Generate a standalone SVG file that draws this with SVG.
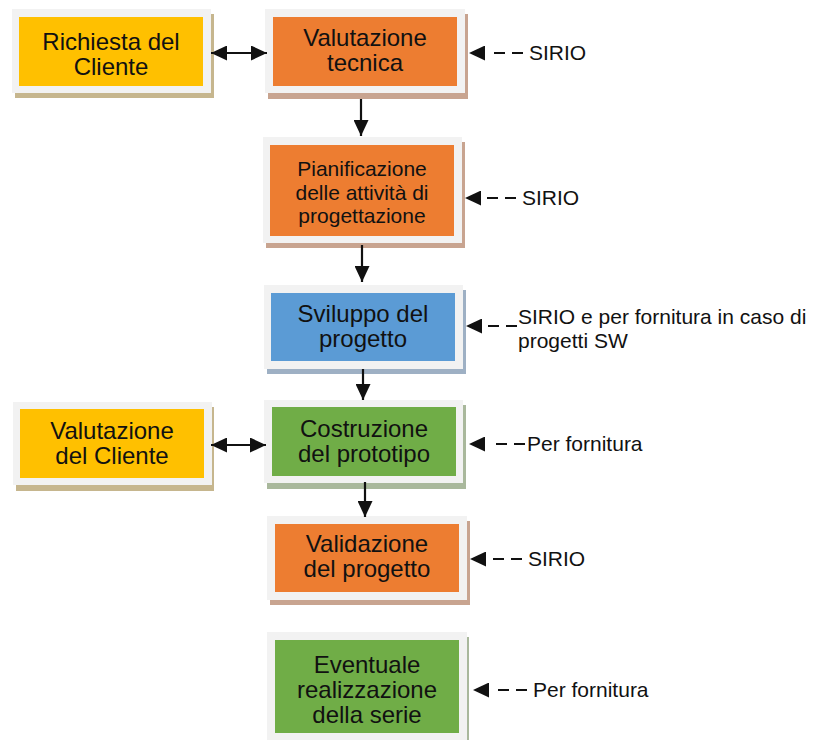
<svg xmlns="http://www.w3.org/2000/svg" width="813" height="740" viewBox="0 0 813 740">
<style>
.frame{fill:#f2f2f2}
.sh-o{fill:#c8a490}
.sh-y{fill:#c6b68e}
.sh-b{fill:#9eb0c4}
.sh-g{fill:#a9b89c}
.yel{fill:#ffc000}
.ora{fill:#ed7d31}
.blu{fill:#5b9bd5}
.grn{fill:#70ad47}
.nt{font-family:"Liberation Sans",Arial,sans-serif;font-size:24px;fill:#111;text-anchor:middle}
.lt{font-family:"Liberation Sans",Arial,sans-serif;font-size:21px;fill:#111}
.solid{stroke:#111;stroke-width:2.2;fill:none}
.dash{stroke:#111;stroke-width:2.2;fill:none;stroke-dasharray:11 7 11 60}
</style>
<defs>
<marker id="ah" markerUnits="userSpaceOnUse" markerWidth="17" markerHeight="15" refX="16" refY="7.5" orient="auto-start-reverse">
<path d="M0,0 L16,7.5 L0,15 z" fill="#111"/>
</marker>
</defs>
<rect width="813" height="740" fill="#fff"/>

<g id="n-richiesta">
<rect class="sh-y" x="15" y="14" width="199" height="84"/>
<rect class="frame" x="12" y="9" width="199" height="84"/>
<rect class="yel" x="19" y="17" width="184" height="69"/>
<text class="nt" x="111" y="50">Richiesta del</text>
<text class="nt" x="111" y="75">Cliente</text>
</g>

<g id="n-valtecnica">
<rect class="sh-o" x="268" y="14" width="200" height="85"/>
<rect class="frame" x="265" y="9" width="200" height="84"/>
<rect class="ora" x="273" y="17" width="184" height="69"/>
<text class="nt" x="365" y="46">Valutazione</text>
<text class="nt" x="365" y="71">tecnica</text>
</g>

<g id="n-pianificazione">
<rect class="sh-o" x="266" y="142" width="199" height="106"/>
<rect class="frame" x="263" y="137" width="199" height="106"/>
<rect class="ora" x="270" y="145" width="184" height="91"/>
<text class="nt" x="362" y="176" style="font-size:21px">Pianificazione</text>
<text class="nt" x="362" y="200" style="font-size:21px">delle attività di</text>
<text class="nt" x="362" y="223" style="font-size:21px">progettazione</text>
</g>

<g id="n-sviluppo">
<rect class="sh-b" x="267" y="290" width="199" height="84"/>
<rect class="frame" x="264" y="285" width="199" height="84"/>
<rect class="blu" x="271" y="293" width="184" height="68"/>
<text class="nt" x="363" y="322">Sviluppo del</text>
<text class="nt" x="363" y="347">progetto</text>
</g>

<g id="n-valcliente">
<rect class="sh-y" x="16" y="407" width="198" height="84"/>
<rect class="frame" x="13" y="402" width="199" height="83"/>
<rect class="yel" x="20" y="409" width="184" height="69"/>
<text class="nt" x="112" y="439">Valutazione</text>
<text class="nt" x="112" y="464">del Cliente</text>
</g>

<g id="n-costruzione">
<rect class="sh-g" x="267" y="405" width="199" height="84"/>
<rect class="frame" x="264" y="400" width="199" height="83"/>
<rect class="grn" x="272" y="407" width="184" height="69"/>
<text class="nt" x="364" y="437">Costruzione</text>
<text class="nt" x="364" y="462">del prototipo</text>
</g>

<g id="n-validazione">
<rect class="sh-o" x="270" y="521" width="200" height="84"/>
<rect class="frame" x="267" y="516" width="200" height="84"/>
<rect class="ora" x="275" y="524" width="184" height="68"/>
<text class="nt" x="367" y="552">Validazione</text>
<text class="nt" x="367" y="577">del progetto</text>
</g>

<g id="n-eventuale">
<rect class="sh-g" x="269" y="637" width="200" height="110"/>
<rect class="frame" x="267" y="632" width="200" height="110"/>
<rect class="grn" x="275" y="640" width="184" height="93"/>
<text class="nt" x="367" y="673">Eventuale</text>
<text class="nt" x="367" y="698">realizzazione</text>
<text class="nt" x="367" y="723">della serie</text>
</g>

<g id="connectors">
<path class="solid" d="M211,53 H267" marker-start="url(#ah)" marker-end="url(#ah)"/>
<path class="solid" d="M211,445 H266" marker-start="url(#ah)" marker-end="url(#ah)"/>
<path class="solid" d="M361,99 V136" marker-end="url(#ah)"/>
<path class="solid" d="M362,245 V282" marker-end="url(#ah)"/>
<path class="solid" d="M363,369 V400" marker-end="url(#ah)"/>
<path class="solid" d="M365,482 V517" marker-end="url(#ah)"/>
<path class="dash" d="M523,53 H469" marker-end="url(#ah)"/>
<path class="dash" d="M516,198 H465" marker-end="url(#ah)"/>
<path class="dash" d="M517,326 H466" marker-end="url(#ah)"/>
<path class="dash" d="M525,444 H469" marker-end="url(#ah)"/>
<path class="dash" d="M522,559 H470" marker-end="url(#ah)"/>
<path class="dash" d="M527,690 H473" marker-end="url(#ah)"/>
</g>

<g id="labels">
<text class="lt" x="529" y="60">SIRIO</text>
<text class="lt" x="522" y="205">SIRIO</text>
<text class="lt" x="518" y="324">SIRIO e per fornitura in caso di</text>
<text class="lt" x="518" y="348">progetti SW</text>
<text class="lt" x="527" y="451">Per fornitura</text>
<text class="lt" x="528" y="566">SIRIO</text>
<text class="lt" x="533" y="697">Per fornitura</text>
</g>
</svg>
